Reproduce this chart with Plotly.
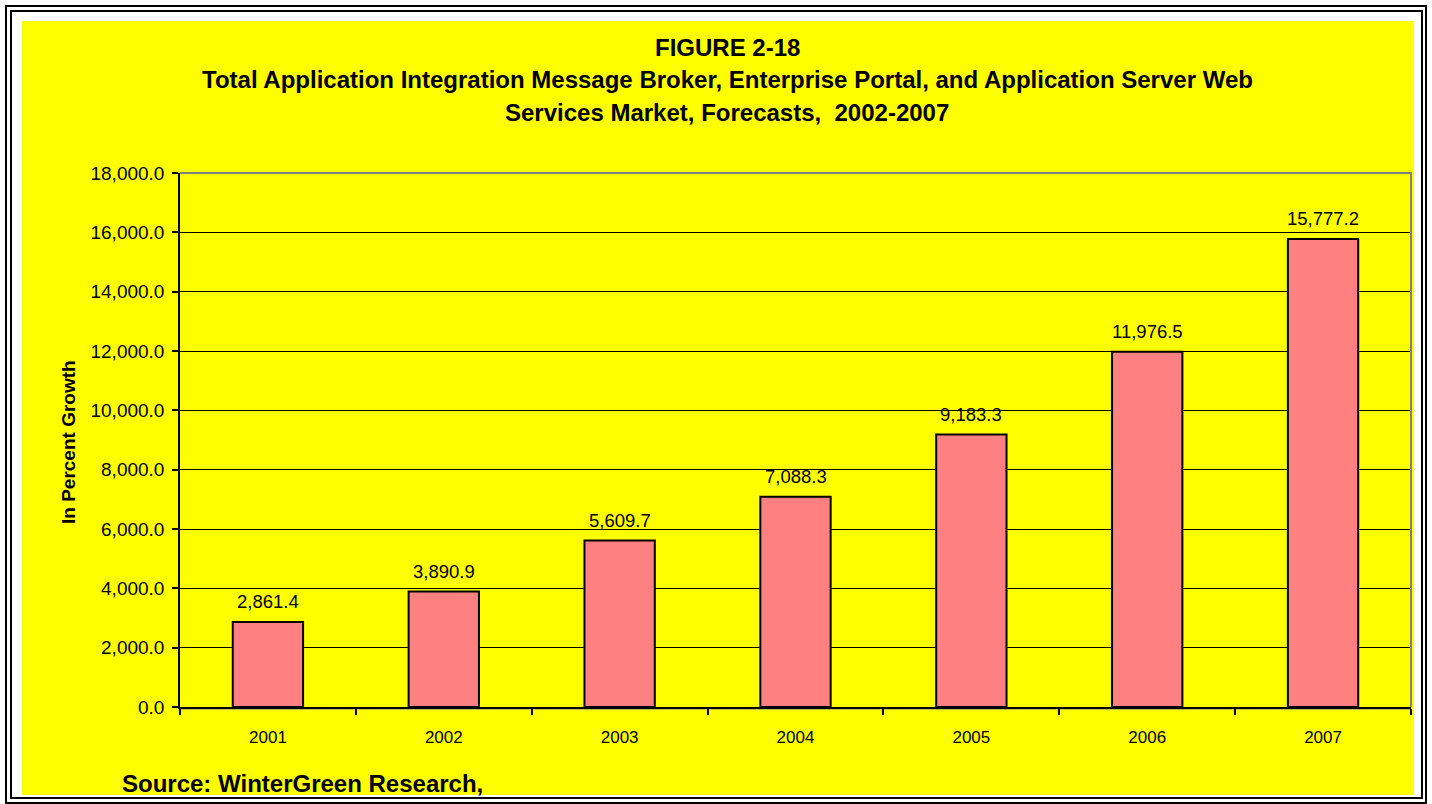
import plotly.graph_objects as go

years = ["2001", "2002", "2003", "2004", "2005", "2006", "2007"]
values = [2861.4, 3890.9, 5609.7, 7088.3, 9183.3, 11976.5, 15777.2]
y_ticks = [0, 2000, 4000, 6000, 8000, 10000, 12000, 14000, 16000, 18000]

title_lines = [
    "FIGURE 2-18",
    "Total Application Integration Message Broker, Enterprise Portal, and Application Server Web",
    "Services Market, Forecasts,  2002-2007",
]
y_title = "In Percent Growth"
source = "Source: WinterGreen Research,"

W, H = 1432, 804
L, R, T, B = 180, 1411, 173, 707
pw, ph = R - L, B - T


def px(x):
    return (x - L) / pw


def py(y):
    return (B - y) / ph


FONT = "Liberation Sans, Arial, sans-serif"

fig = go.Figure()
fig.add_trace(go.Bar(
    x=years, y=values,
    marker=dict(color="#FF8080", line=dict(color="black", width=2)),
    hoverinfo="x+y",
))

shapes = [
    # yellow panel
    dict(type="rect", xref="paper", yref="paper", x0=px(22), x1=px(1414), y0=py(795), y1=py(21),
         fillcolor="#FFFF00", line=dict(width=0), layer="below"),
    # double border
    dict(type="rect", xref="paper", yref="paper", x0=px(6), x1=px(1426), y0=py(803), y1=py(6),
         line=dict(color="black", width=2), layer="below"),
    dict(type="rect", xref="paper", yref="paper", x0=px(11), x1=px(1422), y0=py(798), y1=py(11),
         line=dict(color="black", width=2), layer="below"),
    # gray plot frame top/right
    dict(type="path", xref="paper", yref="paper", path="M 0,1 L 1,1 L 1,0",
         line=dict(color="#808080", width=2), layer="above"),
    # gray line under x axis
    dict(type="line", xref="paper", yref="paper", x0=0, x1=1, y0=py(708.5), y1=py(708.5),
         line=dict(color="#808080", width=2), layer="below"),
]

annotations = []
title_y = [47, 80, 113]
for line, yy in zip(title_lines, title_y):
    annotations.append(dict(text="<b>%s</b>" % line, xref="paper", yref="paper",
                            x=px(727), y=py(yy), xanchor="center", yanchor="middle",
                            showarrow=False, font=dict(family=FONT, size=24, color="black")))
annotations.append(dict(text="<b>%s</b>" % y_title, xref="paper", yref="paper",
                        x=px(68), y=py(442), textangle=-90, xanchor="center", yanchor="middle",
                        showarrow=False, font=dict(family=FONT, size=19, color="black")))
annotations.append(dict(text="<b>%s</b>" % source, xref="paper", yref="paper",
                        x=px(120), y=py(783), xanchor="left", yanchor="middle",
                        showarrow=False, font=dict(family=FONT, size=24, color="black")))
for i, yv in enumerate(values):
    annotations.append(dict(text="{:,.1f}".format(yv), x=i, y=yv, xref="x", yref="y",
                            xanchor="center", yanchor="bottom", yshift=8, showarrow=False,
                            font=dict(family=FONT, size=18.5, color="black")))

fig.update_layout(
    width=W, height=H,
    margin=dict(l=L, r=W - R, t=T, b=H - B, pad=0),
    paper_bgcolor="white", plot_bgcolor="#FFFF00",
    bargap=0.6, showlegend=False,
    shapes=shapes, annotations=annotations,
    font=dict(family=FONT, color="black"),
)
fig.update_yaxes(
    range=[0, 18000], tickvals=y_ticks, tickformat=",.1f",
    showgrid=True, gridcolor="black", gridwidth=1,
    showline=True, linecolor="black", linewidth=1.5,
    ticks="outside", ticklen=6, tickcolor="black", tickwidth=1.5,
    ticklabelstandoff=4, zeroline=False,
    tickfont=dict(family=FONT, size=19, color="black"),
)
fig.update_xaxes(
    type="category", range=[-0.5, len(years) - 0.5], autorange=False, showgrid=False,
    showline=True, linecolor="black", linewidth=2,
    ticks="outside", tickson="boundaries", ticklen=6, tickcolor="black", tickwidth=1.5,
    ticklabelstandoff=14, tickangle=0,
    tickfont=dict(family=FONT, size=17, color="black"),
)

fig.write_html("out.html", config={"displayModeBar": False},
               post_script="document.body.style.margin='0';document.body.style.padding='0';")
